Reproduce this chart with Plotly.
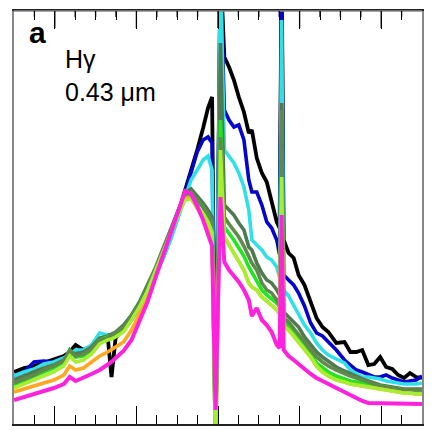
import plotly.graph_objects as go

# velocity-like abscissa (arbitrary units, line centre at 0)
x = [-10.00, -9.51, -9.02, -8.54, -8.05, -7.56, -7.27, -6.98, -6.59, -6.20,
     -5.80, -5.41, -5.22, -5.02, -4.63, -4.24, -3.85, -3.46, -3.07, -2.68,
     -2.29, -1.90, -1.61, -1.32, -1.02, -0.73, -0.49, -0.29, -0.12, 0.12,
     0.31, 0.54, 0.78, 1.02, 1.27, 1.51, 1.66, 1.90, 2.15, 2.39,
     2.63, 2.88, 3.02, 3.12, 3.22, 3.46, 3.71, 3.95, 4.24, 4.54,
     4.83, 5.12, 5.41, 5.80, 6.20, 6.49, 6.78, 7.07, 7.37, 7.66,
     7.95, 8.24, 8.54, 8.83, 9.12, 9.41, 9.71, 10.00]

black = [0.52, 0.56, 0.58, 0.61, 0.64, 0.68, 0.72, 0.79, 0.74, 0.78,
         0.84, 0.88, 0.47, 0.86, 0.96, 1.06, 1.18, 1.29, 1.49, 1.67,
         1.88, 2.14, 2.34, 2.54, 2.74, 2.96, 3.16, 3.27, -0.3, 4.6,
         3.67, 3.57, 3.44, 3.27, 3.12, 2.91, 2.94, 2.66, 2.51, 2.42,
         2.24, 2.02, 1.96, 4.6, 1.84, 1.71, 1.66, 1.49, 1.39, 1.21,
         1.06, 0.97, 0.92, 0.81, 0.82, 0.72, 0.72, 0.74, 0.59, 0.60,
         0.67, 0.57, 0.55, 0.49, 0.46, 0.51, 0.47, 0.46]

blue = [0.48, 0.52, 0.62, 0.63, 0.62, 0.66, 0.69, 0.72, 0.74, 0.77,
        0.82, 0.86, 0.87, 0.88, 0.94, 1.04, 1.17, 1.32, 1.50, 1.68,
        1.89, 2.12, 2.32, 2.52, 2.72, 2.84, 2.87, 2.81, -0.3, 4.6,
        3.14, 3.04, 2.97, 2.99, 2.84, 2.44, 2.32, 2.32, 2.19, 2.02,
        1.96, 1.84, 1.69, 4.6, 1.49, 1.44, 1.39, 1.31, 1.18, 1.01,
        0.91, 0.88, 0.82, 0.74, 0.64, 0.59, 0.54, 0.52, 0.49, 0.47,
        0.47, 0.49, 0.46, 0.44, 0.42, 0.43, 0.44, 0.48]

cyan = [0.48, 0.52, 0.55, 0.60, 0.62, 0.66, 0.70, 0.74, 0.74, 0.79,
        0.91, 0.89, 0.88, 0.90, 0.96, 1.06, 1.18, 1.32, 1.49, 1.66,
        1.86, 2.09, 2.28, 2.44, 2.54, 2.64, 2.68, 2.54, -0.3, 4.6,
        2.74, 2.67, 2.61, 2.51, 2.37, 2.14, 1.84, 1.79, 1.74, 1.67,
        1.64, 1.57, 1.47, 4.04, 1.34, 1.28, 1.19, 1.11, 0.99, 0.91,
        0.81, 0.74, 0.69, 0.65, 0.61, 0.54, 0.50, 0.47, 0.47, 0.46,
        0.45, 0.43, 0.42, 0.41, 0.40, 0.40, 0.40, 0.41]

olive_dark = [0.44, 0.48, 0.52, 0.56, 0.59, 0.64, 0.72, 0.70, 0.72, 0.77,
              0.86, 0.88, 0.90, 0.92, 0.99, 1.09, 1.22, 1.38, 1.56, 1.76,
              1.96, 2.18, 2.31, 2.35, 2.28, 2.21, 2.14, 2.07, -0.3, 3.81,
              2.19, 2.14, 2.09, 2.01, 1.94, 1.77, 1.74, 1.61, 1.51, 1.44,
              1.41, 1.34, 1.29, 3.21, 1.12, 1.07, 1.02, 0.97, 0.87, 0.79,
              0.72, 0.67, 0.63, 0.57, 0.53, 0.50, 0.47, 0.45, 0.43, 0.41,
              0.39, 0.38, 0.37, 0.36, 0.35, 0.35, 0.35, 0.35]

green = [0.39, 0.43, 0.48, 0.52, 0.56, 0.62, 0.74, 0.67, 0.68, 0.74,
         0.84, 0.87, 0.88, 0.90, 0.96, 1.07, 1.20, 1.36, 1.54, 1.74,
         1.94, 2.14, 2.27, 2.29, 2.24, 2.17, 2.08, 2.00, -0.3, 3.04,
         1.97, 1.91, 1.84, 1.76, 1.68, 1.57, 1.52, 1.44, 1.34, 1.29,
         1.25, 1.21, 1.17, 2.74, 1.04, 0.98, 0.92, 0.86, 0.78, 0.70,
         0.61, 0.56, 0.52, 0.48, 0.45, 0.43, 0.42, 0.41, 0.40, 0.39,
         0.38, 0.37, 0.36, 0.35, 0.34, 0.33, 0.32, 0.32]

olive_light = [0.41, 0.45, 0.49, 0.54, 0.58, 0.63, 0.74, 0.68, 0.70, 0.75,
               0.84, 0.86, 0.89, 0.91, 0.97, 1.07, 1.20, 1.36, 1.54, 1.74,
               1.95, 2.16, 2.29, 2.32, 2.24, 2.16, 2.10, 2.02, -0.3, 2.87,
               2.07, 2.00, 1.94, 1.87, 1.78, 1.67, 1.61, 1.54, 1.41, 1.34,
               1.31, 1.24, 1.19, 3.14, 1.06, 1.02, 0.96, 0.90, 0.82, 0.74,
               0.67, 0.62, 0.58, 0.54, 0.50, 0.48, 0.46, 0.44, 0.42, 0.40,
               0.38, 0.37, 0.36, 0.35, 0.34, 0.34, 0.34, 0.34]

orange = [0.32, 0.35, 0.38, 0.41, 0.44, 0.49, 0.58, 0.54, 0.56, 0.62,
          0.68, 0.72, 0.74, 0.77, 0.82, 0.94, 1.10, 1.30, 1.51, 1.72,
          1.92, 2.14, 2.26, 2.26, 2.16, 2.06, 1.96, 1.86, 0.10, 2.29,
          1.87, 1.79, 1.71, 1.62, 1.54, 1.41, 1.37, 1.34, 1.27, 1.23,
          1.19, 1.14, 1.10, 2.16, 0.98, 0.94, 0.88, 0.82, 0.75, 0.67,
          0.58, 0.52, 0.48, 0.44, 0.42, 0.40, 0.39, 0.38, 0.37, 0.36,
          0.35, 0.34, 0.33, 0.32, 0.31, 0.31, 0.30, 0.30]

lime = [0.36, 0.40, 0.44, 0.48, 0.52, 0.58, 0.68, 0.62, 0.64, 0.70,
        0.80, 0.84, 0.85, 0.87, 0.92, 1.04, 1.17, 1.33, 1.52, 1.72,
        1.92, 2.12, 2.24, 2.25, 2.18, 2.10, 2.02, 1.92, -0.3, 2.74,
        1.87, 1.79, 1.71, 1.62, 1.54, 1.41, 1.37, 1.34, 1.27, 1.23,
        1.19, 1.14, 1.10, 2.47, 0.98, 0.94, 0.88, 0.82, 0.75, 0.67,
        0.58, 0.52, 0.48, 0.44, 0.42, 0.40, 0.39, 0.38, 0.37, 0.36,
        0.35, 0.34, 0.33, 0.32, 0.31, 0.31, 0.30, 0.30]

magenta = [0.24, 0.27, 0.30, 0.33, 0.36, 0.40, 0.47, 0.43, 0.46, 0.50,
           0.54, 0.59, 0.62, 0.66, 0.73, 0.84, 1.02, 1.22, 1.46, 1.69,
           1.91, 2.16, 2.33, 2.30, 2.18, 2.04, 1.90, 1.78, 0.14, 2.27,
           1.62, 1.54, 1.48, 1.42, 1.34, 1.24, 1.08, 1.16, 1.04, 0.99,
           0.92, 0.79, 0.76, 2.09, 0.74, 0.68, 0.64, 0.60, 0.54, 0.50,
           0.46, 0.43, 0.40, 0.36, 0.31, 0.28, 0.25, 0.23, 0.21, 0.21,
           0.20, 0.20, 0.20, 0.20, 0.20, 0.20, 0.20, 0.20]

series = [
    (black, "#000000", 3.8),
    (blue, "#0505cc", 3.6),
    (cyan, "#2fe0e6", 3.6),
    (olive_dark, "#4f7a4f", 3.6),
    (green, "#1fe61f", 3.6),
    (olive_light, "#5f8a4c", 3.6),
    (orange, "#ffa820", 3.6),
    (lime, "#a8ee30", 3.6),
    (magenta, "#ff22dd", 4.0),
]

X_RANGE = [-10, 10]
Y_RANGE = [0, 4.13]
MINOR_STEP = 1
MAJOR_STEP = 4

fig = go.Figure()
for ys, col, w in series:
    fig.add_trace(go.Scatter(x=x, y=ys, mode="lines",
                             line=dict(color=col, width=w),
                             showlegend=False, hoverinfo="skip"))

fig.update_layout(
    width=433, height=434,
    margin=dict(l=14, r=9, t=11, b=10),
    paper_bgcolor="white", plot_bgcolor="white",
    xaxis=dict(range=X_RANGE, showline=True, mirror="allticks",
               linecolor="#222222", linewidth=2,
               ticks="inside", ticklen=18, tickwidth=1.3, tickcolor="black",
               dtick=MAJOR_STEP, tick0=0, showticklabels=False,
               showgrid=False, zeroline=False,
               minor=dict(ticks="inside", dtick=MINOR_STEP, ticklen=9,
                          tickwidth=1.3, tickcolor="black")),
    yaxis=dict(range=Y_RANGE, showline=True, mirror=True,
               linecolor="#888888", linewidth=2, showgrid=False,
               zeroline=False, showticklabels=False),
    font=dict(family="Liberation Sans, Arial, sans-serif", color="black"),
)

# top edge of the frame with its inward ticks (drawn as plain arrow-less
# annotation lines so that they are always rendered above the traces)
plot_w = 433 - 14 - 9
fig.add_annotation(text=" ", xref="paper", yref="paper", x=1, y=1,
                   ax=-plot_w, ay=0, axref="pixel", ayref="pixel",
                   showarrow=True, arrowhead=0, arrowwidth=1.6,
                   arrowcolor="#888888", standoff=0, startstandoff=0,
                   font=dict(size=1))
t = X_RANGE[0] + MINOR_STEP
while t < X_RANGE[1]:
    frac = (t - X_RANGE[0]) / (X_RANGE[1] - X_RANGE[0])
    length = 19 if t % MAJOR_STEP == 0 else 8
    fig.add_annotation(text=" ", xref="paper", yref="paper", x=frac, y=1,
                       ax=0, ay=length, axref="pixel", ayref="pixel",
                       showarrow=True, arrowhead=0, arrowwidth=1.3,
                       arrowcolor="black", standoff=0, startstandoff=0,
                       font=dict(size=1))
    t += MINOR_STEP

fig.add_annotation(text="<b>a</b>", xref="paper", yref="paper",
                   x=0.033, y=0.947, xanchor="left", yanchor="middle",
                   showarrow=False, font=dict(size=30, color="black"))
fig.add_annotation(text="Hγ<br>0.43 μm", xref="paper", yref="paper",
                   x=0.120, y=0.843, xanchor="left", yanchor="middle",
                   align="left", showarrow=False,
                   font=dict(size=25, color="black"))

fig.write_html("out.html")
